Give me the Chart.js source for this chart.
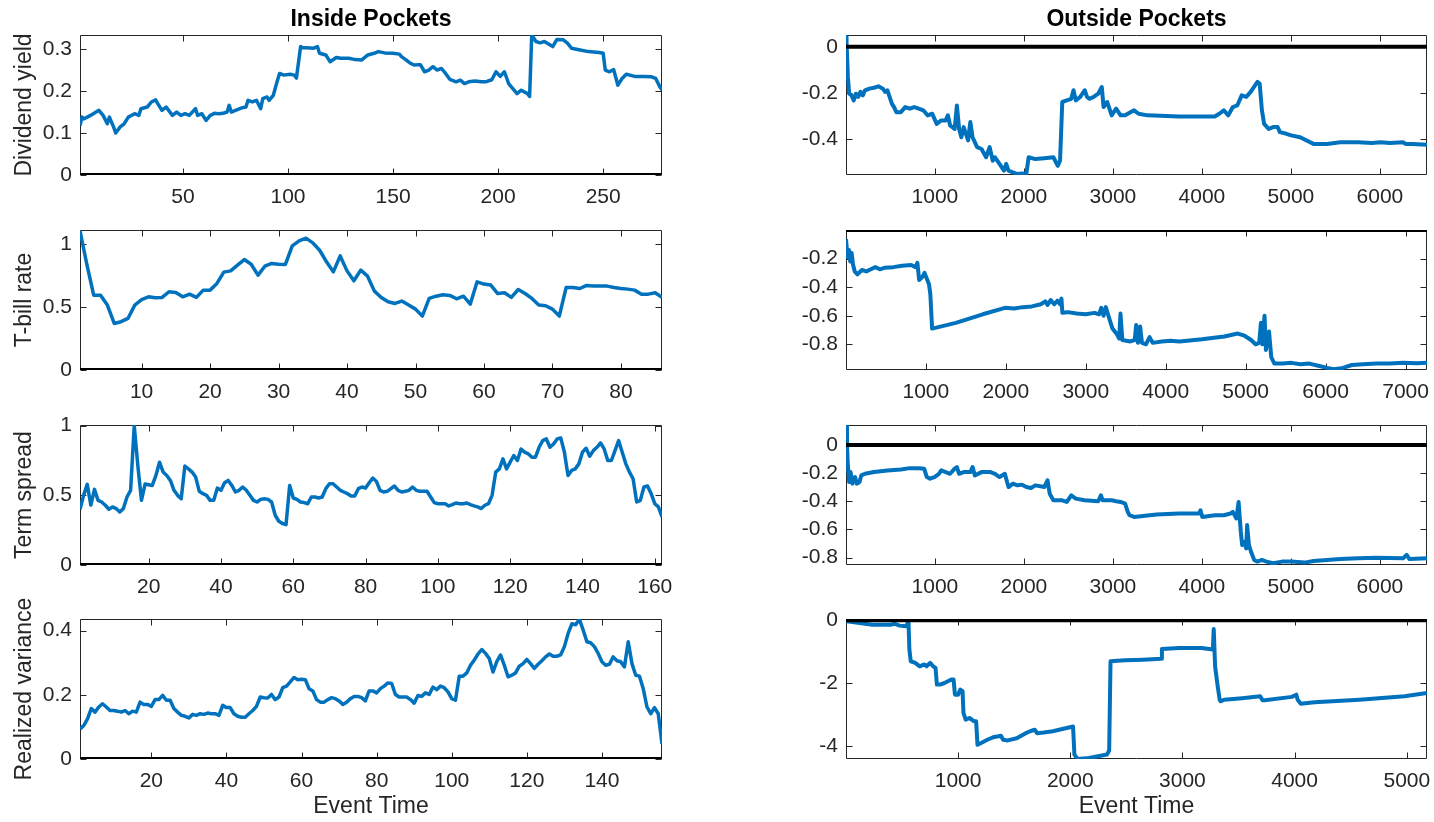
<!DOCTYPE html>
<html>
<head>
<meta charset="utf-8">
<title>Inside and Outside Pockets</title>
<script src="https://cdn.jsdelivr.net/npm/chart.js@4.4.1/dist/chart.umd.min.js"></script>
<style>
  html, body { margin: 0; padding: 0; background: #ffffff; }
  body { width: 1434px; height: 822px; position: relative; overflow: hidden; }
  .panel { position: absolute; }
  .panel canvas { display: block; }
</style>
</head>
<body>
<script>
// ---------------- data ----------------
// Inside pockets: dividend yield, [event time, value]
const insideDividend = [
  [1,0.118],[2,0.138],[3,0.134],[6,0.142],[10,0.154],[12,0.142],[14,0.122],[15,0.138],[17,0.114],[18,0.100],
  [20,0.114],[22,0.122],[24,0.138],[27,0.146],[29,0.142],[30,0.158],[33,0.162],[35,0.174],[37,0.179],[38,0.170],
  [40,0.154],[42,0.162],[45,0.142],[47,0.150],[49,0.142],[51,0.146],[53,0.142],[56,0.158],[57,0.142],[59,0.146],
  [61,0.130],[63,0.142],[65,0.147],[67,0.146],[69,0.147],[71,0.150],[72,0.166],[73,0.150],[75,0.154],[78,0.160],
  [80,0.162],[81,0.178],[83,0.174],[85,0.178],[87,0.158],[88,0.182],[90,0.186],[91,0.178],[93,0.190],[95,0.226],
  [96,0.242],[98,0.238],[101,0.240],[103,0.238],[104,0.231],[106,0.306],[107,0.303],[109,0.303],[112,0.302],[114,0.306],
  [115,0.290],[118,0.286],[120,0.270],[123,0.280],[125,0.278],[129,0.278],[132,0.275],[135,0.274],[138,0.286],[141,0.290],
  [143,0.294],[146,0.291],[150,0.290],[153,0.288],[154,0.282],[156,0.275],[158,0.267],[160,0.262],[163,0.263],[165,0.246],
  [167,0.250],[169,0.258],[171,0.250],[173,0.254],[175,0.242],[177,0.228],[180,0.222],[182,0.226],[184,0.218],[186,0.222],
  [189,0.224],[192,0.222],[194,0.222],[197,0.227],[199,0.246],[201,0.235],[203,0.246],[205,0.218],[207,0.206],[209,0.194],
  [211,0.202],[214,0.194],[215,0.187],[216,0.334],[218,0.318],[220,0.315],[222,0.318],[224,0.312],[226,0.306],[228,0.323],
  [231,0.322],[233,0.314],[235,0.302],[239,0.298],[243,0.294],[248,0.292],[250,0.290],[251,0.250],[253,0.246],[255,0.251],
  [257,0.214],[259,0.230],[261,0.240],[265,0.235],[269,0.235],[273,0.234],[275,0.230],[277,0.210],[278,0.203]
];

// Inside pockets: T-bill rate, one value per event time 1..86
const insideTbill = [
  1.106,0.84,0.595,0.595,0.516,0.37,0.384,0.41,0.516,0.56,
  0.582,0.574,0.577,0.622,0.616,0.582,0.603,0.577,0.635,0.635,
  0.688,0.778,0.788,0.833,0.878,0.841,0.754,0.825,0.847,0.841,
  0.839,0.987,1.026,1.048,1.011,0.952,0.86,0.78,0.907,0.788,
  0.709,0.794,0.746,0.627,0.577,0.542,0.529,0.548,0.516,0.484,
  0.429,0.569,0.587,0.598,0.593,0.566,0.587,0.524,0.701,0.683,
  0.675,0.608,0.614,0.577,0.64,0.608,0.569,0.516,0.511,0.484,
  0.429,0.656,0.656,0.648,0.672,0.667,0.667,0.667,0.656,0.648,
  0.643,0.635,0.603,0.603,0.614,0.577
];

// Inside pockets: term spread, event time 1..162
const insideTerm = [
  0.40,0.50,0.579,0.43,0.543,0.464,0.452,0.429,0.40,0.417,
  0.405,0.381,0.405,0.488,0.536,1.0,0.714,0.464,0.581,0.576,
  0.571,0.643,0.738,0.667,0.643,0.607,0.536,0.50,0.476,0.71,
  0.69,0.667,0.631,0.529,0.512,0.50,0.464,0.464,0.552,0.536,
  0.59,0.607,0.571,0.524,0.536,0.56,0.536,0.50,0.464,0.452,
  0.471,0.476,0.471,0.452,0.357,0.314,0.298,0.29,0.571,0.481,
  0.471,0.452,0.448,0.44,0.488,0.488,0.481,0.488,0.548,0.583,
  0.583,0.56,0.536,0.524,0.512,0.495,0.495,0.548,0.56,0.552,
  0.59,0.624,0.60,0.536,0.524,0.529,0.548,0.567,0.536,0.524,
  0.529,0.536,0.56,0.536,0.529,0.529,0.529,0.488,0.448,0.44,
  0.44,0.44,0.424,0.433,0.445,0.44,0.44,0.445,0.433,0.424,
  0.417,0.405,0.429,0.44,0.50,0.667,0.69,0.762,0.69,0.738,
  0.786,0.75,0.833,0.81,0.798,0.774,0.774,0.845,0.893,0.905,
  0.845,0.869,0.905,0.912,0.81,0.643,0.679,0.69,0.726,0.81,
  0.838,0.781,0.821,0.845,0.876,0.833,0.75,0.75,0.821,0.893,
  0.81,0.726,0.667,0.619,0.452,0.464,0.56,0.567,0.512,0.44,
  0.417,0.345
];

// Inside pockets: realized variance, event time 1..156
const insideVariance = [
  0.094,0.104,0.125,0.157,0.146,0.162,0.172,0.162,0.151,0.151,
  0.149,0.146,0.151,0.141,0.149,0.146,0.177,0.17,0.17,0.164,
  0.185,0.185,0.198,0.183,0.183,0.157,0.146,0.136,0.133,0.128,
  0.139,0.136,0.141,0.139,0.143,0.141,0.141,0.136,0.167,0.16,
  0.16,0.141,0.133,0.13,0.13,0.141,0.151,0.164,0.193,0.191,
  0.19,0.201,0.185,0.193,0.222,0.227,0.24,0.254,0.247,0.248,
  0.247,0.219,0.212,0.185,0.177,0.177,0.185,0.191,0.188,0.181,
  0.17,0.177,0.188,0.195,0.195,0.191,0.181,0.212,0.212,0.206,
  0.219,0.227,0.237,0.235,0.201,0.193,0.193,0.193,0.185,0.174,
  0.198,0.195,0.206,0.201,0.224,0.216,0.227,0.222,0.209,0.188,
  0.183,0.258,0.258,0.268,0.292,0.308,0.327,0.341,0.329,0.313,
  0.271,0.303,0.324,0.292,0.256,0.261,0.268,0.289,0.297,0.31,
  0.297,0.282,0.295,0.306,0.318,0.327,0.32,0.32,0.324,0.35,
  0.391,0.421,0.418,0.435,0.402,0.365,0.362,0.35,0.329,0.303,
  0.292,0.295,0.318,0.306,0.303,0.287,0.365,0.297,0.261,0.258,
  0.219,0.162,0.141,0.16,0.141,0.047
];

// Outside pockets, [event time, value]
const outsideDividend = [
  [1,0.055],[7,0.02],[22,-0.131],[37,-0.204],[63,-0.211],[88,-0.233],[113,-0.204],[138,-0.218],[163,-0.196],[189,-0.211],
  [214,-0.189],[264,-0.182],[315,-0.178],[365,-0.172],[415,-0.182],[441,-0.196],[466,-0.189],[491,-0.218],[516,-0.247],[541,-0.262],
  [567,-0.284],[617,-0.284],[667,-0.262],[718,-0.269],[768,-0.262],[819,-0.269],[869,-0.276],[919,-0.298],[970,-0.291],[1020,-0.335],
  [1071,-0.32],[1121,-0.32],[1146,-0.298],[1171,-0.342],[1222,-0.357],[1247,-0.255],[1272,-0.357],[1297,-0.393],[1323,-0.349],[1373,-0.407],
  [1398,-0.327],[1423,-0.393],[1474,-0.436],[1524,-0.444],[1575,-0.48],[1615,-0.436],[1650,-0.495],[1675,-0.48],[1726,-0.509],[1776,-0.538],
  [1801,-0.509],[1827,-0.538],[1877,-0.546],[1927,-0.553],[1978,-0.55],[2028,-0.55],[2053,-0.48],[2129,-0.488],[2230,-0.484],[2331,-0.48],
  [2381,-0.517],[2406,-0.495],[2431,-0.24],[2482,-0.233],[2532,-0.226],[2557,-0.189],[2583,-0.233],[2633,-0.218],[2683,-0.189],[2709,-0.218],
  [2734,-0.226],[2784,-0.218],[2835,-0.204],[2875,-0.175],[2895,-0.262],[2935,-0.24],[2961,-0.269],[2986,-0.298],[3036,-0.269],[3087,-0.298],
  [3137,-0.298],[3238,-0.276],[3288,-0.291],[3389,-0.298],[3742,-0.303],[3994,-0.303],[4145,-0.303],[4195,-0.291],[4246,-0.276],[4296,-0.298],
  [4347,-0.262],[4397,-0.255],[4447,-0.211],[4498,-0.218],[4548,-0.196],[4599,-0.167],[4624,-0.153],[4649,-0.16],[4674,-0.276],[4699,-0.335],
  [4750,-0.357],[4800,-0.349],[4851,-0.349],[4876,-0.371],[4951,-0.378],[5002,-0.385],[5103,-0.393],[5254,-0.422],[5405,-0.422],[5556,-0.415],
  [5758,-0.415],[5909,-0.418],[6010,-0.415],[6111,-0.418],[6262,-0.415],[6287,-0.422],[6363,-0.422],[6529,-0.426]
];

const outsideTbill = [
  [1,-0.065],[21,-0.19],[38,-0.14],[54,-0.22],[71,-0.16],[88,-0.24],[110,-0.29],[144,-0.31],[200,-0.28],[256,-0.29],
  [312,-0.275],[368,-0.26],[424,-0.275],[480,-0.265],[591,-0.26],[703,-0.25],[815,-0.245],[871,-0.26],[894,-0.23],[916,-0.35],
  [955,-0.33],[983,-0.30],[1011,-0.34],[1039,-0.38],[1056,-0.45],[1078,-0.69],[1375,-0.65],[1711,-0.59],[1990,-0.545],[2102,-0.55],
  [2214,-0.54],[2326,-0.535],[2438,-0.52],[2494,-0.50],[2522,-0.525],[2561,-0.49],[2606,-0.52],[2645,-0.495],[2679,-0.52],[2696,-0.48],
  [2707,-0.58],[2774,-0.575],[2886,-0.585],[2998,-0.59],[3110,-0.58],[3166,-0.59],[3194,-0.545],[3222,-0.6],[3250,-0.54],[3278,-0.59],
  [3334,-0.69],[3390,-0.73],[3418,-0.76],[3434,-0.585],[3457,-0.77],[3557,-0.78],[3613,-0.77],[3630,-0.665],[3652,-0.79],[3680,-0.675],
  [3703,-0.79],[3753,-0.80],[3798,-0.75],[3837,-0.79],[3949,-0.78],[4061,-0.775],[4173,-0.78],[4453,-0.765],[4733,-0.745],[4901,-0.725],
  [4985,-0.74],[5068,-0.77],[5124,-0.80],[5169,-0.79],[5191,-0.65],[5208,-0.80],[5236,-0.60],[5253,-0.84],[5292,-0.71],[5320,-0.89],
  [5359,-0.935],[5460,-0.935],[5572,-0.93],[5684,-0.94],[5796,-0.935],[5908,-0.95],[6020,-0.965],[6104,-0.975],[6216,-0.965],[6328,-0.945],
  [6467,-0.94],[6635,-0.935],[6803,-0.935],[6971,-0.93],[7139,-0.932],[7268,-0.93]
];

const outsideTerm = [
  [1,0.14],[12,0.0],[22,-0.146],[37,-0.264],[52,-0.193],[73,-0.275],[103,-0.228],[123,-0.275],[153,-0.264],[173,-0.216],
  [214,-0.205],[315,-0.193],[466,-0.181],[617,-0.174],[718,-0.165],[819,-0.165],[879,-0.169],[909,-0.228],[945,-0.24],[995,-0.228],
  [1045,-0.205],[1071,-0.181],[1121,-0.193],[1171,-0.205],[1222,-0.169],[1247,-0.158],[1272,-0.205],[1323,-0.193],[1398,-0.193],[1423,-0.158],
  [1449,-0.216],[1524,-0.193],[1625,-0.193],[1675,-0.205],[1726,-0.228],[1786,-0.205],[1801,-0.24],[1827,-0.299],[1877,-0.275],[1927,-0.287],
  [1978,-0.282],[2028,-0.299],[2079,-0.306],[2129,-0.287],[2230,-0.299],[2265,-0.252],[2290,-0.346],[2331,-0.393],[2431,-0.393],[2482,-0.405],
  [2532,-0.358],[2583,-0.381],[2683,-0.393],[2835,-0.40],[2865,-0.358],[2885,-0.393],[2986,-0.393],[3036,-0.40],[3087,-0.405],[3137,-0.416],
  [3167,-0.475],[3187,-0.499],[3238,-0.511],[3490,-0.494],[3742,-0.487],[3969,-0.487],[3984,-0.464],[4004,-0.511],[4145,-0.499],[4246,-0.499],
  [4321,-0.487],[4347,-0.475],[4387,-0.522],[4412,-0.405],[4437,-0.616],[4452,-0.711],[4473,-0.687],[4498,-0.734],[4508,-0.569],[4528,-0.711],
  [4558,-0.769],[4588,-0.816],[4624,-0.828],[4674,-0.816],[4725,-0.828],[4800,-0.84],[4901,-0.828],[5002,-0.828],[5153,-0.835],[5254,-0.824],
  [5405,-0.816],[5556,-0.809],[5758,-0.805],[5960,-0.80],[6260,-0.805],[6300,-0.78],[6330,-0.809],[6529,-0.805]
];

const outsideVariance = [
  [1,-0.03],[75,-0.06],[156,-0.10],[236,-0.14],[397,-0.14],[437,-0.11],[477,-0.17],[538,-0.19],[558,-0.03],[566,-0.93],
  [578,-1.30],[618,-1.35],[658,-1.46],[699,-1.40],[719,-1.46],[751,-1.35],[779,-1.46],[799,-1.51],[811,-2.04],[839,-2.04],
  [879,-1.99],[940,-1.88],[960,-1.88],[972,-2.36],[1000,-2.36],[1020,-2.20],[1040,-2.25],[1048,-2.94],[1068,-3.15],[1101,-3.10],
  [1141,-3.20],[1161,-3.20],[1173,-3.95],[1201,-3.90],[1261,-3.79],[1322,-3.70],[1362,-3.68],[1382,-3.66],[1402,-3.79],[1442,-3.81],
  [1523,-3.74],[1603,-3.58],[1643,-3.52],[1683,-3.47],[1704,-3.58],[1764,-3.56],[1844,-3.52],[2025,-3.37],[2037,-4.26],[2065,-4.40],
  [2166,-4.37],[2327,-4.26],[2347,-4.13],[2359,-1.30],[2487,-1.27],[2648,-1.25],[2809,-1.22],[2817,-0.91],[2970,-0.88],[3171,-0.88],
  [3271,-0.93],[3279,-0.28],[3291,-1.46],[3312,-2.04],[3332,-2.52],[3340,-2.57],[3372,-2.52],[3533,-2.47],[3693,-2.41],[3714,-2.54],
  [3734,-2.54],[3975,-2.43],[4015,-2.36],[4027,-2.52],[4055,-2.65],[4176,-2.60],[4578,-2.52],[4980,-2.41],[5180,-2.31]
];

// tick values
const dividendInTicksX = [50, 100, 150, 200, 250];
const dividendInTicksY = [0, 0.1, 0.2, 0.3];
const tbillInTicksX = [10, 20, 30, 40, 50, 60, 70, 80];
const tbillInTicksY = [0, 0.5, 1];
const termInTicksX = [20, 40, 60, 80, 100, 120, 140, 160];
const termInTicksY = [0, 0.5, 1];
const varianceInTicksX = [20, 40, 60, 80, 100, 120, 140];
const varianceInTicksY = [0, 0.2, 0.4];

const dividendOutTicksX = [1000, 2000, 3000, 4000, 5000, 6000];
const dividendOutTicksY = [-0.4, -0.2, 0];
const tbillOutTicksX = [1000, 2000, 3000, 4000, 5000, 6000, 7000];
const tbillOutTicksY = [-0.8, -0.6, -0.4, -0.2];
const termOutTicksX = [1000, 2000, 3000, 4000, 5000, 6000];
const termOutTicksY = [-0.8, -0.6, -0.4, -0.2, 0];
const varianceOutTicksX = [1000, 2000, 3000, 4000, 5000];
const varianceOutTicksY = [-4, -2, 0];

const columnTitles = ['Inside Pockets', 'Outside Pockets'];
const rowLabels = ['Dividend yield', 'T-bill rate', 'Term spread', 'Realized variance'];
const xAxisLabel = 'Event Time';

// ---------------- drawing ----------------
const FONT = "'Liberation Sans', Arial, Helvetica, sans-serif";
const INK = '#262626';
const BLUE = '#0072BD';

const fromValues = vals => vals.map((v, i) => ({ x: i + 1, y: v }));
const fromPairs = pts => pts.map(([x, y]) => ({ x, y }));

// axes box with inward tick marks on all four sides
const axesFrame = {
  id: 'axesFrame',
  beforeDatasetsDraw(chart) {
    const { ctx, chartArea: a, scales: { x, y } } = chart;
    const L = a.left + 0.5, R = a.right - 0.5, T = a.top + 0.5, B = a.bottom - 0.5;
    const tl = 6;
    ctx.save();
    ctx.strokeStyle = INK;
    ctx.lineWidth = 1;
    ctx.beginPath();
    ctx.rect(L, T, R - L, B - T);
    x.ticks.forEach(t => {
      const p = Math.round(x.getPixelForValue(t.value)) + 0.5;
      ctx.moveTo(p, B); ctx.lineTo(p, B - tl);
      ctx.moveTo(p, T); ctx.lineTo(p, T + tl);
    });
    y.ticks.forEach(t => {
      const p = Math.round(y.getPixelForValue(t.value)) + 0.5;
      ctx.moveTo(L, p); ctx.lineTo(L + tl, p);
      ctx.moveTo(R, p); ctx.lineTo(R - tl, p);
    });
    ctx.stroke();
    ctx.restore();
  }
};

const columns = [
  { plotLeft: 80, plotWidth: 582, padL: 80, padR: 30 },
  { plotLeft: 846, plotWidth: 581, padL: 100, padR: 7 }
];
const rowTops = [35, 230, 425, 619];
const PLOT_H = 140;
const HEAD = 35;
const rowFoot = [45, 45, 45, 63];

const panels = [
  { row: 0, col: 0, pts: fromPairs(insideDividend), xr: [1, 278], yr: [0, 0.3336], xt: dividendInTicksX, yt: dividendInTicksY },
  { row: 0, col: 1, pts: fromPairs(outsideDividend), xr: [1, 6529], yr: [-0.557, 0.051], xt: dividendOutTicksX, yt: dividendOutTicksY },
  { row: 1, col: 0, pts: fromValues(insideTbill), xr: [1, 86], yr: [0, 1.113], xt: tbillInTicksX, yt: tbillInTicksY },
  { row: 1, col: 1, pts: fromPairs(outsideTbill), xr: [1, 7268], yr: [-0.98, 0], xt: tbillOutTicksX, yt: tbillOutTicksY },
  { row: 2, col: 0, pts: fromValues(insideTerm), xr: [1, 162], yr: [0, 1.005], xt: termInTicksX, yt: termInTicksY },
  { row: 2, col: 1, pts: fromPairs(outsideTerm), xr: [1, 6529], yr: [-0.852, 0.141], xt: termOutTicksX, yt: termOutTicksY },
  { row: 3, col: 0, pts: fromValues(insideVariance), xr: [1, 156], yr: [0, 0.436], xt: varianceInTicksX, yt: varianceInTicksY },
  { row: 3, col: 1, pts: fromPairs(outsideVariance), xr: [1, 5180], yr: [-4.4, 0.04], xt: varianceOutTicksX, yt: varianceOutTicksY }
];

panels.forEach(p => {
  const c = columns[p.col];
  const foot = rowFoot[p.row];
  const width = c.padL + c.plotWidth + c.padR;
  const height = HEAD + PLOT_H + foot;
  const wrap = document.createElement('div');
  wrap.className = 'panel';
  wrap.style.left = (c.plotLeft - c.padL) + 'px';
  wrap.style.top = (rowTops[p.row] - HEAD) + 'px';
  const cv = document.createElement('canvas');
  cv.width = width; cv.height = height;
  cv.style.width = width + 'px'; cv.style.height = height + 'px';
  wrap.appendChild(cv);
  document.body.appendChild(wrap);

  const isTop = p.row === 0;
  const isBottom = p.row === 3;
  const yLabel = p.col === 0 ? rowLabels[p.row] : null;

  new Chart(cv, {
    type: 'line',
    data: {
      datasets: [
        { data: p.pts, borderColor: BLUE, borderWidth: p.col === 0 ? 3.5 : 4, pointRadius: 0,
          tension: 0, borderJoinStyle: 'round', fill: false, order: 1 },
        { data: [{ x: p.xr[0], y: 0 }, { x: p.xr[1], y: 0 }], borderColor: '#000000', borderWidth: 4,
          pointRadius: 0, fill: false, order: 0 }
      ]
    },
    options: {
      responsive: false,
      animation: false,
      devicePixelRatio: 1,
      events: [],
      layout: { padding: { left: 0, right: c.padR, top: isTop ? 0 : HEAD, bottom: 0 } },
      plugins: {
        legend: { display: false },
        tooltip: { enabled: false },
        title: {
          display: isTop,
          text: columnTitles[p.col],
          fullSize: false,
          color: '#000000',
          font: { family: FONT, size: 23, weight: 'bold' },
          padding: { top: 6.2, bottom: 1.2 }
        }
      },
      scales: {
        x: {
          type: 'linear',
          min: p.xr[0], max: p.xr[1],
          grid: { display: false, drawTicks: false, tickLength: 0 },
          border: { display: false },
          ticks: {
            autoSkip: false, maxRotation: 0, minRotation: 0, padding: 9.5,
            color: INK, font: { family: FONT, size: 21 },
            callback: v => String(v)
          },
          title: {
            display: isBottom, text: xAxisLabel, color: INK,
            font: { family: FONT, size: 23 }, padding: { top: 0, bottom: 1.2 }
          },
          afterBuildTicks: s => { s.ticks = p.xt.map(v => ({ value: v })); },
          afterFit: s => { s.height = foot; s.paddingLeft = 0; s.paddingRight = 0; }
        },
        y: {
          type: 'linear',
          min: p.yr[0], max: p.yr[1],
          grid: { display: false, drawTicks: false, tickLength: 0 },
          border: { display: false },
          ticks: {
            autoSkip: false, padding: 8,
            color: INK, font: { family: FONT, size: 21 },
            callback: v => String(v)
          },
          title: {
            display: !!yLabel, text: yLabel || '', color: INK,
            font: { family: FONT, size: 23 }, padding: { top: 11.2, bottom: 0 }
          },
          afterBuildTicks: s => { s.ticks = p.yt.map(v => ({ value: v })); },
          afterFit: s => { s.width = c.padL; s.paddingTop = 0; s.paddingBottom = 0; }
        }
      }
    },
    plugins: [axesFrame]
  });
});
</script>
</body>
</html>
